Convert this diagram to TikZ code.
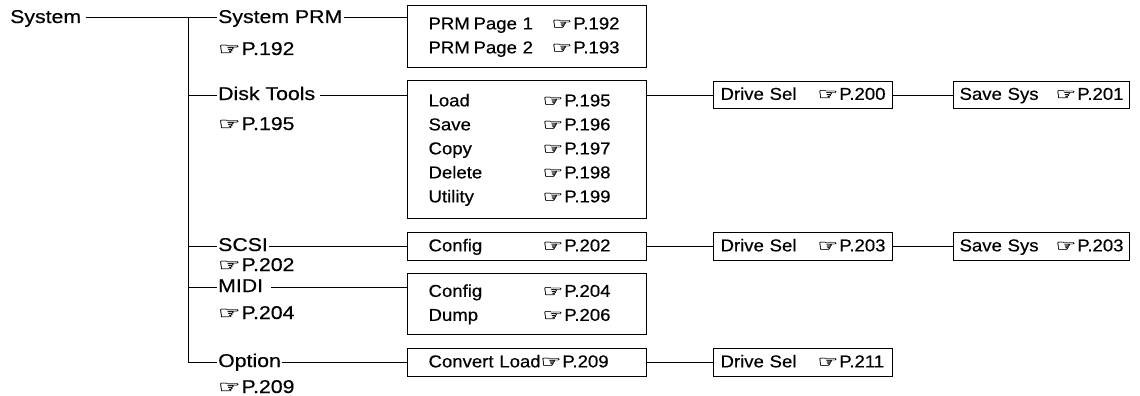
\documentclass[tikz,border=0pt]{standalone}
\usepackage{graphicx}
\usepackage{fontspec}
\setmainfont{Liberation Sans}
\newfontfamily\handfont[FakeBold=0.6]{DejaVu Sans}
\newfontfamily\lblfont[FakeStretch=1.15,FakeBold=0.4]{Liberation Sans}
\newfontfamily\boxfont[FakeStretch=1.08,FakeBold=0.4]{Liberation Sans}
\newcommand\hand{{\handfont\raisebox{0.2pt}{\scalebox{1.35}[0.95]{☞}}}\kern1pt}
\begin{document}
\begin{tikzpicture}[x=1pt,y=-1pt,
  lbl/.style={anchor=west, inner xsep=0pt, inner ysep=0pt, text height=10pt, text depth=0pt,
    font=\fontsize{18.5}{22}\lblfont},
  bx/.style={draw, line width=1.1pt, anchor=north west, inner ysep=0pt, align=left,
    font=\fontsize{17.2}{24}\boxfont},
  bigbox/.style={bx, inner xsep=21pt, text width=197pt},
  ln/.style={line width=1pt}]
\useasboundingbox (0,0) rectangle (1140,396);

% left labels
\node[lbl] (sys) at (10,18) {System};
\node[lbl] (sysprm) at (218,18) {System PRM};
\node[lbl] (sysprmref) at (218,50) {\hand P.192};
\node[lbl] (disk) at (218,95) {Disk Tools};
\node[lbl] (diskref) at (218,125) {\hand P.195};
\node[lbl] (scsi) at (218,246) {SCSI};
\node[lbl] (scsiref) at (218,266) {\hand P.202};
\node[lbl] (midi) at (218,287) {MIDI};
\node[lbl] (midiref) at (218,314) {\hand P.204};
\node[lbl] (opt) at (218,362) {Option};
\node[lbl] (optref) at (218,388) {\hand P.209};

% first-level boxes
\node[bigbox, minimum height=62pt] (prmbox) at (407,5)
  {\begin{tabular}{@{}p{45pt}@{}p{78pt}@{}l@{}}PRM & Page 1 & \hand P.192\\ PRM & Page 2 & \hand P.193\end{tabular}};
\node[bigbox, minimum height=138pt] (diskbox) at (407,80)
  {\begin{tabular}{@{}p{114pt}@{}l@{}}Load & \hand P.195\\ Save & \hand P.196\\ Copy & \hand P.197\\ Delete & \hand P.198\\ Utility & \hand P.199\end{tabular}};
\node[bigbox, minimum height=28pt] (scsibox) at (407,232)
  {\begin{tabular}{@{}p{114pt}@{}l@{}}Config & \hand P.202\end{tabular}};
\node[bigbox, minimum height=61pt] (midibox) at (407,273)
  {\begin{tabular}{@{}p{114pt}@{}l@{}}Config & \hand P.204\\ Dump & \hand P.206\end{tabular}};
\node[bigbox, minimum height=28pt] (optbox) at (407,348)
  {\begin{tabular}{@{}l@{}}Convert Load\hand P.209\end{tabular}};

% second / third level boxes
\node[bx, inner xsep=7pt, text width=165pt, minimum height=27pt] (dsel1) at (713,81)
  {\begin{tabular}{@{}p{97pt}@{}l@{}}Drive Sel & \hand P.200\end{tabular}};
\node[bx, inner xsep=6pt, text width=164pt, minimum height=27pt] (ssys1) at (953,81)
  {\begin{tabular}{@{}p{96pt}@{}l@{}}Save Sys & \hand P.201\end{tabular}};
\node[bx, inner xsep=7pt, text width=165pt, minimum height=28pt] (dsel2) at (713,232)
  {\begin{tabular}{@{}p{97pt}@{}l@{}}Drive Sel & \hand P.203\end{tabular}};
\node[bx, inner xsep=6pt, text width=164pt, minimum height=28pt] (ssys2) at (953,232)
  {\begin{tabular}{@{}p{96pt}@{}l@{}}Save Sys & \hand P.203\end{tabular}};
\node[bx, inner xsep=7pt, text width=165pt, minimum height=28pt] (dsel3) at (713,348)
  {\begin{tabular}{@{}p{97pt}@{}l@{}}Drive Sel & \hand P.211\end{tabular}};

% trunk
\coordinate (tT) at (188,18);
\draw[ln, shorten <=5pt, shorten >=1pt] (sys.east) -- (sysprm.west);
\draw[ln, shorten >=1pt] (tT) |- (opt.west);
\draw[ln, shorten >=1pt] (disk.west -| tT) -- (disk.west);
\draw[ln, shorten >=1pt] (scsi.west -| tT) -- (scsi.west);
\draw[ln, shorten >=1pt] (midi.west -| tT) -- (midi.west);

% label to box
\draw[ln, shorten <=1pt] (sysprm.east) -- (sysprm.east -| prmbox.west);
\draw[ln, shorten <=5pt] (disk.east) -- (disk.east -| diskbox.west);
\draw[ln, shorten <=1pt] (scsi.east) -- (scsi.east -| scsibox.west);
\draw[ln, shorten <=8pt] (midi.east) -- (midi.east -| midibox.west);
\draw[ln, shorten <=1pt] (opt.east) -- (opt.east -| optbox.west);

% box to box
\draw[ln] (dsel1.west -| diskbox.east) -- (dsel1.west);
\draw[ln] (dsel1.east) -- (ssys1.west);
\draw[ln] (scsibox.east) -- (dsel2.west);
\draw[ln] (dsel2.east) -- (ssys2.west);
\draw[ln] (optbox.east) -- (dsel3.west);
\end{tikzpicture}
\end{document}
